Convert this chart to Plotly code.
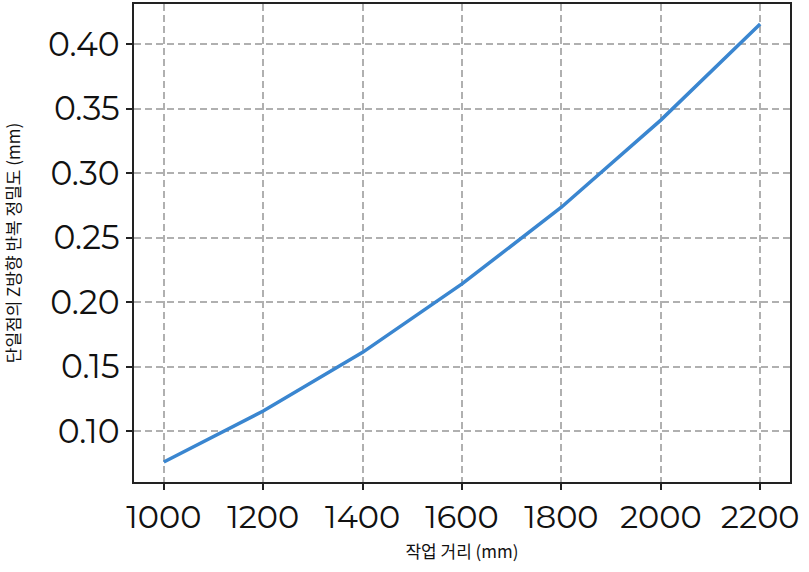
import plotly.graph_objects as go

# 작업 거리 vs 단일점 Z방향 반복 정밀도
distance_mm = [1000, 1200, 1400, 1600, 1800, 2000, 2200]
precision_mm = [0.076, 0.1155, 0.161, 0.214, 0.2735, 0.341, 0.4155]

x_ticks = [1000, 1200, 1400, 1600, 1800, 2000, 2200]
y_ticks = [0.10, 0.15, 0.20, 0.25, 0.30, 0.35, 0.40]

fig = go.Figure()
fig.add_trace(go.Scatter(
    x=distance_mm, y=precision_mm, mode="lines",
    line=dict(color="#3a86d0", width=3.5),
))

axis_common = dict(
    showline=True, linecolor="#222222", linewidth=1.5, mirror=True,
    showgrid=True, gridcolor="#b0b0b0", griddash="7px,4px", gridwidth=2,
    ticks="outside", ticklen=6, tickcolor="#222222", tickwidth=1.5,
    zeroline=False,
)

tick_font = dict(family="Montserrat, Noto Sans, sans-serif", size=32, color="#111111", weight=400)
title_font = dict(family="Noto Sans CJK KR", size=17, color="#111111")

fig.update_layout(
    width=809, height=572,
    margin=dict(l=134, r=19, t=2, b=90),
    plot_bgcolor="white", paper_bgcolor="white",
    showlegend=False,
    xaxis=dict(
        axis_common, range=[940, 2260], tickvals=x_ticks,
        ticktext=[str(v) for v in x_ticks], tickfont=tick_font,
        title=dict(text="작업 거리 (mm)", standoff=11, font=title_font),
    ),
    yaxis=dict(
        axis_common, range=[0.0605, 0.431], tickvals=y_ticks,
        ticktext=["%.2f" % v for v in y_ticks], tickfont=dict(tick_font, size=33),
        title=dict(text="단일점의 Z방향 반복 정밀도 (mm)", standoff=25, font=title_font),
    ),
)

# 브라우저 기본 body 여백 제거
fig.write_html("out.html", config={"displayModeBar": False},
               post_script="document.body.style.margin='0';")
